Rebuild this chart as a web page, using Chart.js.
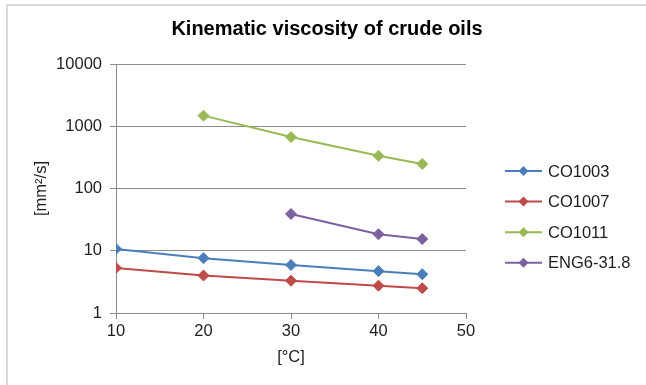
<!DOCTYPE html>
<html>
<head>
<meta charset="utf-8">
<script src="https://cdn.jsdelivr.net/npm/chart.js@4/dist/chart.umd.min.js"></script>
<style>
  html, body { margin: 0; padding: 0; background: #fff; }
  #wrap { position: relative; width: 646px; height: 385px; overflow: hidden; }
  #frame { position: absolute; left: 6px; top: 4px; width: 700px; height: 400px;
           border-top: 2px solid #d9d9d9; border-left: 2px solid #d9d9d9; pointer-events: none; }
  canvas { position: absolute; left: 0; top: 0; }
</style>
</head>
<body>
<div id="wrap">
  <canvas id="c" width="646" height="385"></canvas>
  <div id="frame"></div>
</div>
<script>
const chartTitle = 'Kinematic viscosity of crude oils';
const xTitle = '[°C]';
const yTitle = '[mm²/s]';
const seriesNames = ['CO1003', 'CO1007', 'CO1011', 'ENG6-31.8'];
const seriesColors = ['#4a7ebb', '#be4b48', '#98b954', '#7d60a0'];

const tempsCO1003 = [10, 20, 30, 40, 45];
const viscCO1003 = [10.7, 7.6, 5.9, 4.7, 4.2];
const tempsCO1007 = [10, 20, 30, 40, 45];
const viscCO1007 = [5.3, 4.0, 3.3, 2.75, 2.5];
const tempsCO1011 = [20, 30, 40, 45];
const viscCO1011 = [1480, 670, 335, 248];
const tempsENG6 = [30, 40, 45];
const viscENG6 = [39, 18.4, 15.4];

const xTicks = [10, 20, 30, 40, 50];
const yTicks = [1, 10, 100, 1000, 10000];

const FONT = 'Liberation Sans, Arial, sans-serif';
const TEXT = '#1e1e1e';
const GRID = '#8c8c8c';

function pts(xs, ys) { return xs.map((x, i) => ({ x: x, y: ys[i] })); }
const allX = [tempsCO1003, tempsCO1007, tempsCO1011, tempsENG6];
const allY = [viscCO1003, viscCO1007, viscCO1011, viscENG6];

const datasets = seriesNames.map((name, i) => ({
  label: name,
  data: pts(allX[i], allY[i]),
  borderColor: seriesColors[i],
  backgroundColor: seriesColors[i],
  pointBackgroundColor: seriesColors[i],
  pointBorderColor: seriesColors[i],
  pointStyle: 'rectRot',
  pointRadius: 5.5,
  pointBorderWidth: 1,
  borderWidth: 2,
  tension: 0,
  fill: false
}));

const legendPlugin = {
  id: 'sideLegend',
  afterDraw(chart) {
    const ctx = chart.ctx;
    const x0 = 505, lineLen = 37, textX = 548, y0 = 171, step = 30.6;
    ctx.save();
    chart.data.datasets.forEach((ds, i) => {
      const y = y0 + i * step;
      ctx.strokeStyle = ds.borderColor;
      ctx.lineWidth = 2;
      ctx.beginPath();
      ctx.moveTo(x0, y);
      ctx.lineTo(x0 + lineLen, y);
      ctx.stroke();
      const cx = x0 + lineLen / 2, r = 5;
      ctx.fillStyle = ds.borderColor;
      ctx.beginPath();
      ctx.moveTo(cx, y - r); ctx.lineTo(cx + r, y); ctx.lineTo(cx, y + r); ctx.lineTo(cx - r, y);
      ctx.closePath();
      ctx.fill();
      ctx.fillStyle = TEXT;
      ctx.font = '16.5px ' + FONT;
      ctx.textBaseline = 'middle';
      ctx.textAlign = 'left';
      ctx.fillText(ds.label, textX, y + 1);
    });
    ctx.restore();
  }
};

new Chart(document.getElementById('c'), {
  type: 'line',
  data: { datasets: datasets },
  plugins: [legendPlugin],
  options: {
    responsive: false,
    animation: false,
    layout: { padding: { left: 8, right: 0, top: 6, bottom: 0 } },
    plugins: {
      legend: { display: false },
      tooltip: { enabled: false },
      title: {
        display: true,
        text: chartTitle,
        color: '#000',
        font: { family: FONT, size: 20, weight: 'bold', lineHeight: 1.2 },
        padding: { top: 11, bottom: 23 }
      }
    },
    scales: {
      x: {
        type: 'linear',
        min: 10, max: 50,
        afterBuildTicks: s => { s.ticks = xTicks.map(v => ({ value: v })); },
        afterFit: s => { s.height = 72; },
        ticks: { color: TEXT, font: { family: FONT, size: 16.5 }, padding: 3, maxRotation: 0 },
        grid: { display: true, drawOnChartArea: false, drawTicks: true, tickLength: 6, color: GRID, lineWidth: 1 },
        border: { display: true, color: GRID, width: 1 },
        title: { display: true, text: xTitle, color: TEXT, font: { family: FONT, size: 16.5, lineHeight: 1.2 }, padding: { top: 0, bottom: 18 } }
      },
      y: {
        type: 'logarithmic',
        min: 1, max: 10000,
        afterBuildTicks: s => { s.ticks = yTicks.map(v => ({ value: v })); },
        afterFit: s => { s.width = 116 - 8; },
        ticks: { color: TEXT, font: { family: FONT, size: 16.5 }, padding: 8, callback: v => String(v) },
        grid: { display: true, drawOnChartArea: true, drawTicks: true, tickLength: 6, color: GRID, lineWidth: 1 },
        border: { display: true, color: GRID, width: 1 },
        title: { display: true, text: yTitle, color: TEXT, font: { family: FONT, size: 16.5, lineHeight: 1.2 }, padding: { top: 24, bottom: 0 } }
      },
      legendSpace: {
        type: 'linear',
        position: 'right',
        display: true,
        afterFit: s => { s.width = 180; },
        ticks: { display: false },
        grid: { display: false, drawTicks: false },
        border: { display: false },
        title: { display: false }
      }
    }
  }
});
</script>
</body>
</html>
